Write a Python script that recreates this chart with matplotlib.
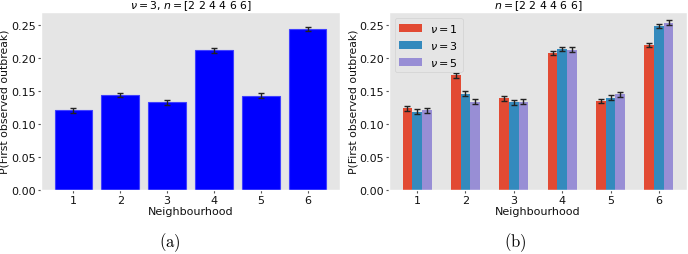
import matplotlib
matplotlib.use("Agg")
import matplotlib.pyplot as plt
import numpy as np

plt.style.use('ggplot')
plt.rcParams['mathtext.fontset'] = 'dejavusans'

neigh = [1, 2, 3, 4, 5, 6]
p_nu3 = [0.121, 0.144, 0.133, 0.212, 0.143, 0.244]
err_nu3 = [0.0035, 0.0035, 0.0035, 0.0035, 0.0035, 0.0035]

p_nu1 = [0.124, 0.174, 0.139, 0.208, 0.135, 0.220]
p_nu3b = [0.119, 0.146, 0.133, 0.214, 0.140, 0.249]
p_nu5 = [0.121, 0.134, 0.134, 0.213, 0.145, 0.254]
err_b = [0.0035, 0.0035, 0.0035, 0.0035, 0.0035, 0.0035]

fig = plt.figure(figsize=(6.88, 2.55), dpi=100)
W, H = 688.0, 255.0
ax1 = fig.add_axes([41/W, (H-191)/H, 299/W, 178/H])
ax2 = fig.add_axes([389/W, (H-191)/H, 298/W, 178/H])

x = np.array(neigh)
ax1.bar(x, p_nu3, width=0.8, color='blue', edgecolor='#4040ff', linewidth=0.8)
ax1.errorbar(x, p_nu3, yerr=err_nu3, fmt='none', ecolor='#222222', capsize=2.5, elinewidth=1)
ax1.set_title(r'$\nu = 3$, $n = $[2 2 4 4 6 6]', fontsize=7.8, pad=3)

w = 0.2
cols = ['#E24A33', '#348ABD', '#988ED5']
labels = [r'$\nu = 1$', r'$\nu = 3$', r'$\nu = 5$']
for k, (vals, c, lab) in enumerate(zip([p_nu1, p_nu3b, p_nu5], cols, labels)):
    ax2.bar(x + (k - 1) * w, vals, width=w, color=c, label=lab)
    ax2.errorbar(x + (k - 1) * w, vals, yerr=err_b, fmt='none', ecolor='#222222',
                 capsize=2.5, elinewidth=1)
ax2.set_title(r'$n = $[2 2 4 4 6 6]', fontsize=7.8, pad=3)
leg = ax2.legend(loc='upper left', fontsize=8, framealpha=0.8, handlelength=2.1,
                 borderpad=0.4, labelspacing=0.45, handletextpad=0.7)

for ax in (ax1, ax2):
    ax.grid(False)
    ax.set_ylim(0, 0.27)
    ax.set_yticks([0, 0.05, 0.10, 0.15, 0.20, 0.25])
    ax.set_yticklabels(['0.00', '0.05', '0.10', '0.15', '0.20', '0.25'])
    ax.set_xticks(neigh)
    ax.tick_params(labelsize=8, colors='#555555', labelcolor='#111111', length=2, pad=1.5)
    ax.set_xlabel('Neighbourhood', fontsize=8, color='#111111', labelpad=1)
    ax.set_ylabel('P(First observed outbreak)', fontsize=7.8, color='#111111', labelpad=1)

fig.text(170/W, 1 - 243/H, r'$\mathrm{(a)}$', math_fontfamily='cm', fontsize=12,
         ha='center', va='center')
fig.text(515/W, 1 - 243/H, r'$\mathrm{(b)}$', math_fontfamily='cm', fontsize=12,
         ha='center', va='center')

fig.savefig('out.png', dpi=100)
